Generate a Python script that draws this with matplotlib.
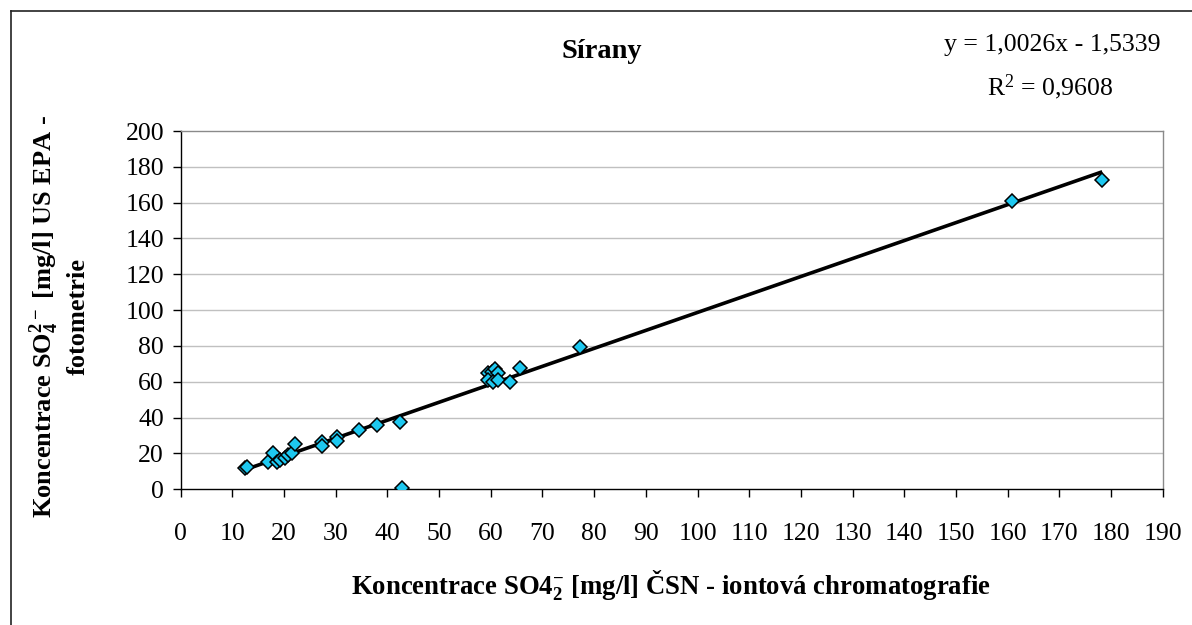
import matplotlib
matplotlib.use("Agg")
import matplotlib.pyplot as plt
import numpy as np
from matplotlib.lines import Line2D

plt.rcParams['font.family'] = ['Liberation Serif', 'DejaVu Serif']
plt.rcParams['mathtext.fontset'] = 'custom'
plt.rcParams['mathtext.rm'] = 'Liberation Serif'
plt.rcParams['mathtext.bf'] = 'Liberation Serif:bold'
plt.rcParams['mathtext.default'] = 'regular'

# Data
x_csn = [12.4, 12.8, 16.9, 17.9, 18.6, 19.2, 20.2, 20.8, 21.5, 22.1,
         27.3, 27.3, 30.2, 30.2, 34.5, 38.0, 42.4, 42.9,
         59.5, 60.2, 60.8, 61.4, 59.5, 60.5, 61.4, 63.7, 65.6,
         77.2, 160.9, 178.3]
y_epa = [11.7, 12.6, 15.4, 20.1, 15.4, 16.4, 17.3, 19.2, 20.1, 25.1,
         26.6, 24.2, 29.4, 27.2, 33.1, 35.9, 37.8, 0.9,
         65.1, 65.7, 67.0, 65.1, 61.1, 60.1, 61.1, 60.1, 67.9,
         79.3, 160.7, 172.4]
slope = 1.0026
intercept = -1.5339
x_ticks = list(range(0, 200, 10))
y_ticks = list(range(0, 220, 20))

title = "Sírany"
eq_text = "y = 1,0026x - 1,5339"
r2_text = "R$^2$ = 0,9608"
xlabel = "Koncentrace SO4$_2^{-}$ [mg/l] ČSN - iontová chromatografie"
ylabel = "Koncentrace SO$_4^{2-}$ [mg/l] US EPA -\nfotometrie"

W, H = 1192, 625
fig = plt.figure(figsize=(W / 100, H / 100), dpi=100)
ax = fig.add_axes([180.7 / W, 1 - 489.3 / H, (1162.7 - 180.7) / W, (489.3 - 131) / H])

ax.set_xlim(0, 190)
ax.set_ylim(0, 200)
ax.set_xticks(x_ticks)
ax.set_yticks(y_ticks)
ax.tick_params(axis='both', direction='out', length=6, width=1, labelsize=18.5, color='black')
ax.tick_params(axis='x', pad=18)
ax.tick_params(axis='y', pad=6)

for yv in y_ticks[1:-1]:
    ax.axhline(yv, color='#c0c0c0', lw=1.0, zorder=0)

for s in ['left', 'bottom']:
    ax.spines[s].set_color('black')
    ax.spines[s].set_linewidth(1.0)
for s in ['top', 'right']:
    ax.spines[s].set_color('#8a8a8a')
    ax.spines[s].set_linewidth(1.0)

xl = np.array([min(x_csn), max(x_csn)])
ax.plot(xl, slope * xl + intercept, color='black', lw=2.6, zorder=2, solid_capstyle='butt')
ax.plot(x_csn, y_epa, linestyle='none', marker='D', markersize=7,
        markerfacecolor='#1ec8f0', markeredgecolor='black', markeredgewidth=1.1, zorder=3)

fig.text(602 / W, 1 - 52 / H, title, ha='center', va='center', fontsize=20.5, fontweight='bold')
fig.text(1052 / W, 1 - 45 / H, eq_text, ha='center', va='center', fontsize=18.5)
fig.text(1050 / W, 1 - 87 / H, r2_text, ha='center', va='center', fontsize=18.5)

fig.text(671 / W, 1 - 586 / H, xlabel, ha='center', va='center', fontsize=19.3, fontweight='bold')
fig.text(59 / W, 1 - 316 / H, ylabel, ha='center', va='center', fontsize=19, fontweight='bold',
         rotation=90, multialignment='center', linespacing=1.3)

# outer chart border
fig.add_artist(Line2D([11 / W, 1.0], [1 - 11 / H, 1 - 11 / H], color='#222222', lw=1.2))
fig.add_artist(Line2D([11 / W, 11 / W], [1 - 11 / H, 0.0], color='#222222', lw=1.2))

fig.savefig("out.png", dpi=100)
